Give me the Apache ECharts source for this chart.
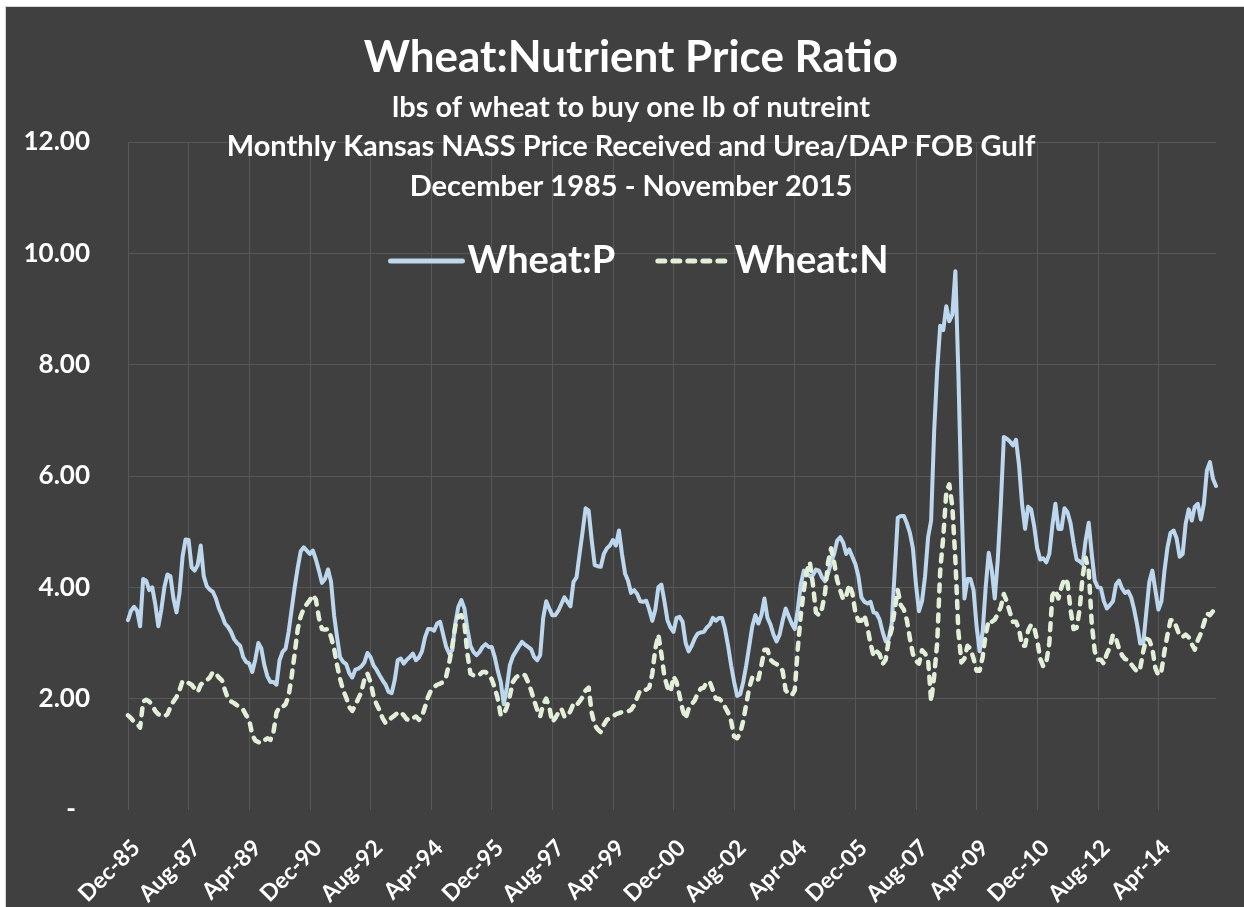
<!DOCTYPE html>
<html>
<head>
<meta charset="utf-8">
<script src="https://cdn.jsdelivr.net/npm/echarts@6/dist/echarts.min.js"></script>
<style>
html,body{margin:0;padding:0;background:#fff;width:1244px;height:907px;overflow:hidden;}
#chart{position:absolute;left:5px;top:6px;width:1238px;height:900px;border-left:1px solid #d4d4d4;border-top:1px solid #d4d4d4;background:#404040;}
</style>
</head>
<body>
<div id="chart"></div>
<script>
// Month names and category labels (Dec-85 .. Nov-15)
const monthNames = ['Jan','Feb','Mar','Apr','May','Jun','Jul','Aug','Sep','Oct','Nov','Dec'];
const categories = [];
for (let k = 0; k < 360; k++) {
  const m = (11 + k) % 12;
  const y = 1985 + Math.floor((11 + k) / 12);
  categories.push(monthNames[m] + '-' + String(y % 100).padStart(2, '0'));
}

const yTicks = [0, 2, 4, 6, 8, 10, 12];

// Wheat:P  (lbs of wheat per lb of P)
const wheatP = [
  3.41, 3.58, 3.65, 3.58, 3.30, 4.15, 4.12, 3.95, 4.00, 3.70,
  3.30, 3.60, 4.00, 4.23, 4.20, 3.80, 3.55, 3.90, 4.55, 4.86,
  4.85, 4.36, 4.30, 4.40, 4.75, 4.20, 4.02, 3.96, 3.92, 3.80,
  3.62, 3.50, 3.35, 3.29, 3.20, 3.07, 3.00, 2.95, 2.75, 2.66,
  2.63, 2.48, 2.70, 3.00, 2.90, 2.60, 2.40, 2.30, 2.30, 2.25,
  2.69, 2.84, 2.90, 3.20, 3.60, 4.00, 4.35, 4.65, 4.72, 4.66,
  4.60, 4.66, 4.50, 4.30, 4.08, 4.15, 4.32, 4.10, 3.50, 3.10,
  2.74, 2.66, 2.62, 2.46, 2.38, 2.52, 2.54, 2.58, 2.65, 2.82,
  2.75, 2.60, 2.52, 2.42, 2.33, 2.25, 2.12, 2.10, 2.33, 2.69,
  2.72, 2.63, 2.70, 2.75, 2.81, 2.69, 2.74, 2.85, 3.10, 3.25,
  3.25, 3.22, 3.35, 3.38, 3.15, 2.93, 2.81, 2.87, 3.35, 3.65,
  3.77, 3.62, 3.25, 2.95, 2.84, 2.78, 2.84, 2.93, 2.98, 2.93,
  2.93, 2.75, 2.50, 2.30, 1.90, 2.20, 2.60, 2.76, 2.85, 2.94,
  3.02, 2.97, 2.93, 2.89, 2.75, 2.69, 2.78, 3.45, 3.75, 3.62,
  3.50, 3.50, 3.58, 3.70, 3.82, 3.74, 3.66, 4.10, 4.18, 4.60,
  5.00, 5.42, 5.38, 4.85, 4.40, 4.38, 4.37, 4.60, 4.70, 4.75,
  4.85, 4.75, 5.02, 4.60, 4.25, 4.12, 3.90, 3.95, 3.88, 3.75,
  3.74, 3.76, 3.60, 3.40, 3.60, 4.00, 4.05, 3.75, 3.41, 3.28,
  3.20, 3.45, 3.47, 3.38, 3.00, 2.85, 2.95, 3.08, 3.17, 3.19,
  3.20, 3.28, 3.33, 3.45, 3.40, 3.45, 3.45, 3.25, 2.95, 2.60,
  2.30, 2.05, 2.08, 2.30, 2.60, 2.95, 3.30, 3.50, 3.35, 3.50,
  3.80, 3.45, 3.33, 3.15, 3.03, 3.15, 3.40, 3.62, 3.48, 3.35,
  3.25, 3.60, 4.05, 4.30, 4.25, 4.20, 4.22, 4.32, 4.30, 4.18,
  4.11, 4.25, 4.45, 4.60, 4.84, 4.90, 4.80, 4.60, 4.68, 4.55,
  4.42, 4.20, 3.82, 3.74, 3.71, 3.74, 3.55, 3.53, 3.42, 3.20,
  3.03, 3.08, 3.35, 4.30, 5.25, 5.28, 5.28, 5.15, 4.98, 4.70,
  4.05, 3.57, 3.75, 4.20, 4.90, 5.20, 6.80, 7.90, 8.70, 8.62,
  9.05, 8.78, 8.90, 9.68, 7.83, 5.60, 3.80, 4.15, 4.15, 3.95,
  3.30, 2.85, 3.20, 4.00, 4.62, 4.31, 3.80, 4.50, 5.50, 6.70,
  6.67, 6.62, 6.55, 6.65, 6.20, 5.50, 5.05, 5.45, 5.40, 5.10,
  4.70, 4.50, 4.52, 4.45, 4.60, 5.10, 5.50, 5.05, 5.05, 5.42,
  5.35, 5.15, 4.80, 4.50, 4.47, 4.42, 4.85, 5.16, 4.60, 4.12,
  4.00, 3.99, 3.75, 3.62, 3.68, 3.75, 4.05, 4.12, 3.98, 3.90,
  3.93, 3.82, 3.60, 3.32, 2.99, 3.00, 3.55, 4.10, 4.30, 3.95,
  3.60, 3.75, 4.30, 4.72, 4.98, 5.02, 4.88, 4.55, 4.60, 5.15,
  5.40, 5.20, 5.45, 5.50, 5.22, 5.50, 6.10, 6.25, 5.95, 5.82
];

// Wheat:N  (lbs of wheat per lb of N)
const wheatN = [
  1.70, 1.65, 1.58, 1.55, 1.48, 1.95, 1.98, 1.95, 1.88, 1.78,
  1.72, 1.70, 1.68, 1.72, 1.85, 1.95, 2.03, 2.15, 2.32, 2.30,
  2.28, 2.25, 2.18, 2.12, 2.25, 2.30, 2.33, 2.38, 2.48, 2.45,
  2.38, 2.33, 2.15, 2.00, 1.95, 1.92, 1.88, 1.85, 1.80, 1.70,
  1.62, 1.35, 1.25, 1.22, 1.20, 1.25, 1.29, 1.26, 1.40, 1.75,
  1.85, 1.85, 1.90, 2.05, 2.40, 2.81, 3.25, 3.48, 3.62, 3.70,
  3.77, 3.86, 3.78, 3.45, 3.25, 3.24, 3.25, 3.11, 2.90, 2.60,
  2.35, 2.15, 2.02, 1.85, 1.78, 1.88, 2.00, 2.12, 2.35, 2.45,
  2.30, 2.05, 1.90, 1.79, 1.65, 1.56, 1.60, 1.66, 1.70, 1.75,
  1.76, 1.70, 1.63, 1.61, 1.65, 1.68, 1.62, 1.68, 1.85, 2.03,
  2.15, 2.21, 2.25, 2.27, 2.30, 2.40, 2.65, 2.95, 3.30, 3.48,
  3.50, 3.35, 2.80, 2.45, 2.42, 2.40, 2.43, 2.48, 2.48, 2.42,
  2.35, 2.20, 2.00, 1.70, 1.72, 1.85, 2.05, 2.30, 2.38, 2.42,
  2.44, 2.42, 2.30, 2.15, 1.97, 1.80, 1.68, 1.90, 2.00, 1.85,
  1.58, 1.65, 1.75, 1.82, 1.68, 1.68, 1.78, 1.91, 1.88, 1.95,
  2.03, 2.15, 2.20, 1.75, 1.52, 1.45, 1.40, 1.53, 1.62, 1.65,
  1.68, 1.72, 1.74, 1.76, 1.76, 1.77, 1.80, 1.88, 2.02, 2.15,
  2.17, 2.16, 2.20, 2.45, 2.90, 3.15, 2.80, 2.40, 2.20, 2.12,
  2.40, 2.30, 2.05, 1.80, 1.64, 1.82, 1.90, 1.97, 2.10, 2.18,
  2.20, 2.30, 2.30, 2.15, 2.00, 2.00, 1.95, 1.85, 1.75, 1.60,
  1.32, 1.29, 1.38, 1.60, 1.90, 2.20, 2.38, 2.32, 2.35, 2.60,
  2.88, 2.88, 2.70, 2.65, 2.62, 2.58, 2.50, 2.15, 2.09, 2.06,
  2.15, 2.90, 3.50, 3.95, 4.30, 4.45, 4.05, 3.55, 3.50, 3.62,
  3.90, 4.45, 4.70, 4.45, 4.13, 3.95, 3.78, 3.85, 4.05, 3.90,
  3.55, 3.40, 3.40, 3.50, 3.28, 2.99, 2.77, 2.85, 2.80, 2.62,
  2.70, 3.05, 3.25, 3.60, 3.95, 3.68, 3.60, 3.41, 3.08, 2.80,
  2.68, 2.63, 2.87, 2.81, 2.70, 1.95, 2.40, 3.00, 4.30, 4.90,
  5.70, 5.85, 5.45, 4.50, 3.20, 2.65, 2.72, 2.95, 2.90, 2.72,
  2.50, 2.50, 2.75, 3.15, 3.41, 3.38, 3.42, 3.52, 3.65, 3.88,
  3.74, 3.55, 3.38, 3.38, 3.25, 2.95, 2.95, 3.22, 3.33, 3.28,
  3.05, 2.72, 2.58, 2.65, 3.00, 3.85, 3.95, 3.80, 4.00, 4.16,
  4.08, 3.60, 3.25, 3.27, 3.60, 4.20, 4.53, 4.30, 3.35, 2.85,
  2.70, 2.70, 2.63, 2.81, 2.92, 3.15, 3.08, 2.90, 2.78, 2.71,
  2.70, 2.62, 2.55, 2.48, 2.55, 2.85, 3.08, 3.05, 2.90, 2.55,
  2.42, 2.50, 2.85, 3.15, 3.41, 3.41, 3.28, 3.13, 3.11, 3.15,
  3.10, 2.98, 2.88, 3.05, 3.17, 3.35, 3.53, 3.50, 3.57, 3.60
];

const titleText = 'Wheat:Nutrient Price Ratio';
const subtitleLines = [
  'lbs of wheat to buy one lb of nutreint',
  'Monthly Kansas NASS Price Received and Urea/DAP FOB Gulf',
  'December 1985 - November 2015'
];

const FONT = 'Lato, "Open Sans", sans-serif';
const chart = echarts.init(document.getElementById('chart'), null, {renderer: 'canvas'});

const cx = 625;
const graphics = [
  {type: 'text', z: 100, x: cx, y: 51, style: {text: titleText, fill: '#ffffff', font: 'bold 44px ' + FONT, textAlign: 'center', textVerticalAlign: 'middle'}},
  {type: 'text', z: 100, x: cx, y: 101, style: {text: subtitleLines[0], fill: '#ffffff', font: 'bold 29px ' + FONT, textAlign: 'center', textVerticalAlign: 'middle'}},
  {type: 'text', z: 100, x: cx, y: 140, style: {text: subtitleLines[1], fill: '#ffffff', font: 'bold 29px ' + FONT, textAlign: 'center', textVerticalAlign: 'middle'}},
  {type: 'text', z: 100, x: cx, y: 180, style: {text: subtitleLines[2], fill: '#ffffff', font: 'bold 29px ' + FONT, textAlign: 'center', textVerticalAlign: 'middle'}}
];

const gridColor = '#575757';
const hLineColors = ['rgba(0,0,0,0)', gridColor, gridColor, gridColor, gridColor, gridColor, gridColor];

chart.setOption({
  backgroundColor: '#404040',
  animation: false,
  graphic: graphics,
  legend: {
    data: ['Wheat:P', 'Wheat:N'],
    left: 377,
    top: 230,
    itemWidth: 72,
    itemHeight: 14,
    itemGap: 40,
    itemStyle: {opacity: 0},
    lineStyle: {width: 5, cap: 'round'},
    textStyle: {color: '#ffffff', fontSize: 38, fontWeight: 'bold', fontFamily: FONT}
  },
  grid: {left: 122, top: 135, width: 1088, height: 668, containLabel: false, outerBoundsMode: 'none'},
  xAxis: {
    type: 'category',
    data: categories,
    boundaryGap: false,
    axisLine: {show: false},
    axisTick: {show: false},
    axisLabel: {
      interval: 19,
      rotate: 45,
      margin: 26,
      verticalAlign: 'top',
      color: '#ffffff',
      fontSize: 23,
      fontWeight: 'bold',
      fontFamily: FONT
    },
    splitLine: {show: true, interval: 19, lineStyle: {color: gridColor, width: 1}}
  },
  yAxis: {
    type: 'value',
    min: yTicks[0],
    max: yTicks[yTicks.length - 1],
    interval: 2,
    axisLine: {show: false},
    axisTick: {show: false},
    axisLabel: {
      margin: 38,
      color: '#ffffff',
      fontSize: 26,
      fontWeight: 'bold',
      fontFamily: FONT,
      formatter: function (v) { return v === 0 ? '{z|-}' : v.toFixed(2); },
      rich: {z: {color: '#ffffff', fontSize: 26, fontWeight: 'bold', fontFamily: FONT, padding: [0, 14, 0, 0]}}
    },
    splitLine: {show: true, lineStyle: {color: hLineColors, width: 1}}
  },
  series: [
    {
      name: 'Wheat:P',
      type: 'line',
      data: wheatP,
      symbol: 'none',
      smooth: false,
      lineStyle: {color: '#bdd7ee', width: 4, join: 'round', cap: 'round'},
      itemStyle: {color: '#bdd7ee'}
    },
    {
      name: 'Wheat:N',
      type: 'line',
      data: wheatN,
      symbol: 'none',
      smooth: false,
      lineStyle: {color: '#e2efd9', width: 4.5, type: [7, 8], cap: 'round', join: 'round'},
      itemStyle: {color: '#e2efd9'}
    }
  ]
});
</script>
</body>
</html>
